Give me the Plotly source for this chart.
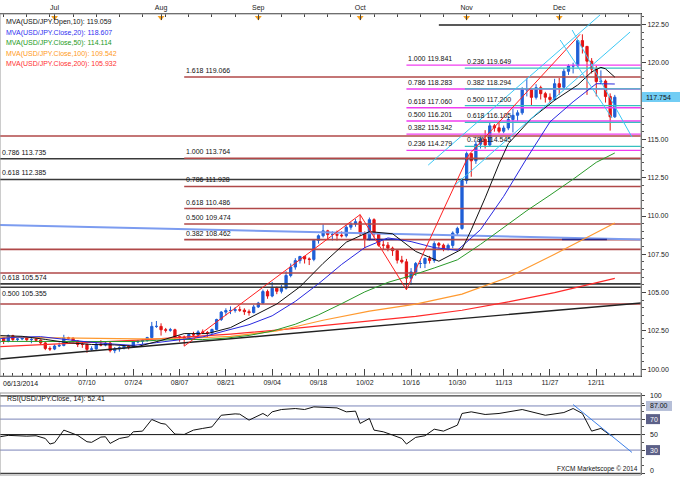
import plotly.graph_objects as go

# ---------------- DATA ----------------
dates = ['06/13','06/16','06/17','06/18','06/19','06/20','06/23','06/24','06/25','06/26','06/27','06/30',
         '07/01','07/02','07/03','07/04','07/07','07/08','07/09','07/10','07/11','07/14','07/15','07/16','07/17','07/18',
         '07/21','07/22','07/23','07/24','07/25','07/28','07/29','07/30','07/31',
         '08/01','08/04','08/05','08/06','08/07','08/08','08/11','08/12','08/13','08/14','08/15','08/18','08/19','08/20',
         '08/21','08/22','08/25','08/26','08/27','08/28','08/29',
         '09/01','09/02','09/03','09/04','09/05','09/08','09/09','09/10','09/11','09/12','09/15','09/16','09/17','09/18',
         '09/19','09/22','09/23','09/24','09/25','09/26','09/29','09/30',
         '10/01','10/02','10/03','10/06','10/07','10/08','10/09','10/10','10/13','10/14','10/15','10/16','10/17','10/20',
         '10/21','10/22','10/23','10/24','10/27','10/28','10/29','10/30','10/31',
         '11/03','11/04','11/05','11/06','11/07','11/10','11/11','11/12','11/13','11/14','11/17','11/18','11/19','11/20',
         '11/21','11/24','11/25','11/26','11/27','11/28',
         '12/01','12/02','12/03','12/04','12/05','12/08','12/09','12/10','12/11','12/12','12/15','12/16','12/17']

opens = [101.72,102.05,101.82,102.19,101.94,101.98,102.04,101.93,101.95,101.90,
         101.72,101.36,101.32,101.52,101.55,102.05,102.03,101.85,101.62,101.62,
         101.30,101.33,101.64,101.58,101.71,101.22,101.33,101.40,101.50,101.45,
         101.78,101.83,101.88,102.07,102.80,102.80,102.58,102.55,102.58,102.12,
         102.10,102.02,102.27,102.24,102.44,102.40,102.38,102.60,103.25,103.73,
         103.83,103.84,103.89,103.86,103.76,103.70,104.07,104.32,105.07,104.78,
         105.29,105.09,105.29,106.12,106.67,107.09,107.36,107.20,107.17,108.41,
         108.71,109.03,108.79,108.80,108.75,108.71,109.27,109.47,109.63,108.85,
         108.48,109.76,108.83,108.10,108.10,107.90,107.74,107.12,107.01,105.94,
         106.35,106.90,106.90,107.23,107.10,108.20,108.10,107.85,108.08,108.89,
         109.19,112.31,114.07,113.60,114.68,115.00,114.63,115.88,115.75,115.53,
         115.74,116.29,116.57,116.73,118.24,118.24,117.74,118.37,117.98,117.75,
         117.60,118.63,118.40,119.44,119.78,119.80,121.44,121.06,120.10,119.58,
         118.77,118.80,117.80,116.47]
highs = [102.15,102.08,102.27,102.25,102.10,102.12,102.15,102.05,102.05,101.95,
         101.80,101.50,101.62,101.75,102.25,102.12,102.08,101.90,101.78,101.68,
         101.50,101.75,101.90,101.82,101.80,101.45,101.50,101.60,101.58,101.85,
         101.92,101.95,102.12,103.09,103.15,103.00,102.70,102.70,102.65,102.20,
         102.20,102.35,102.45,102.55,102.60,102.50,102.65,103.30,103.80,103.98,
         104.10,104.05,104.10,103.98,103.90,104.20,104.40,105.20,105.20,105.70,
         105.40,105.50,106.40,106.90,107.25,107.40,107.40,107.30,108.50,108.80,
         109.45,109.10,109.00,109.05,109.00,109.40,109.60,109.80,110.09,109.00,
         109.90,109.85,108.90,108.40,108.30,108.00,107.80,107.40,107.20,106.60,
         107.00,107.10,107.30,107.40,108.35,108.30,108.20,108.20,109.00,109.30,
         112.45,114.20,114.10,114.90,115.20,115.60,116.10,116.00,116.10,115.90,
         116.50,117.00,116.90,118.40,118.98,118.20,118.60,118.50,118.10,118.00,
         118.95,119.00,119.60,119.90,120.00,121.45,121.85,121.10,120.30,119.80,
         119.50,118.90,118.00,117.90]
lows = [101.62,101.65,101.76,101.80,101.85,101.90,101.82,101.70,101.78,101.60,
        101.25,101.20,101.25,101.45,101.50,101.95,101.75,101.45,101.40,101.08,
        101.20,101.28,101.50,101.50,101.10,101.05,101.15,101.30,101.30,101.40,
        101.70,101.65,101.80,102.00,102.70,102.20,102.40,102.45,101.95,101.80,
        101.51,101.95,102.10,102.15,102.30,102.05,102.30,102.55,103.15,103.50,
        103.60,103.70,103.75,103.55,103.50,103.65,104.00,104.25,104.60,104.70,
        104.90,104.95,105.20,106.00,106.50,106.90,106.90,106.80,107.05,108.20,
        108.60,108.50,108.40,108.40,108.60,108.60,109.10,109.30,108.70,107.90,
        108.40,108.60,108.00,107.80,107.70,107.40,106.90,106.90,105.19,105.50,
        106.10,106.60,106.60,106.90,106.95,107.90,107.70,107.75,107.90,108.70,
        109.10,112.10,112.56,113.40,114.40,114.40,114.50,115.50,115.40,115.40,
        115.60,115.45,116.20,116.60,117.80,117.20,117.60,117.60,117.40,117.40,
        117.50,117.90,118.30,119.20,119.30,119.70,120.60,117.90,119.30,117.80,
        118.60,117.40,115.57,116.40]
closes = [102.05,101.82,102.19,101.94,101.98,102.04,101.93,101.95,101.90,101.72,
          101.36,101.32,101.52,101.55,102.05,102.03,101.85,101.62,101.62,101.30,
          101.33,101.64,101.58,101.71,101.22,101.33,101.40,101.50,101.45,101.78,
          101.83,101.88,102.07,102.80,102.80,102.58,102.55,102.58,102.12,102.10,
          102.02,102.27,102.24,102.44,102.40,102.38,102.60,103.25,103.73,103.83,
          103.84,103.89,103.86,103.76,103.70,104.07,104.32,105.07,104.78,105.29,
          105.09,105.29,106.12,106.67,107.09,107.36,107.20,107.17,108.41,108.71,
          109.03,108.79,108.80,108.75,108.71,109.27,109.47,109.63,108.85,108.48,
          109.76,108.83,108.10,108.10,107.90,107.74,107.12,107.01,105.94,106.35,
          106.90,106.90,107.23,107.10,108.20,108.10,107.85,108.08,108.89,109.19,
          112.31,114.07,113.60,114.68,115.00,114.63,115.88,115.75,115.53,115.74,
          116.29,116.57,116.73,118.24,118.24,117.74,118.37,117.98,117.75,117.60,
          118.63,118.40,119.44,119.78,119.80,121.44,121.06,120.10,119.58,118.77,
          118.80,117.80,116.47,117.75]

# moving averages (bar index, value)
ma10_idx = [0,5,10,15,20,25,30,35,40,45,50,55,60,65,70,75,80,85,90,95,100,102,105,108,110,115,120,125,128,130,131,133]
ma10_val = [102.20,102.15,101.95,101.73,101.62,101.59,101.49,101.88,102.33,102.33,102.72,103.48,104.26,105.38,
            106.91,108.29,108.98,108.84,107.69,107.05,107.84,109.10,111.18,113.40,114.72,116.36,117.55,118.55,
            119.40,119.70,119.60,119.06]
ma20_idx = [0,4,9,14,19,24,29,34,39,44,49,54,59,64,69,74,79,84,89,94,99,104,109,114,119,124,129,133]
ma20_val = [102.00,102.10,102.13,101.94,101.79,101.66,101.56,101.74,101.91,102.11,102.52,102.91,103.49,104.43,
            105.58,106.84,107.94,108.57,108.33,107.94,107.76,109.11,111.28,113.77,116.14,117.45,118.63,118.61]
ma50_idx = [0,4,9,14,19,24,29,34,39,44,49,54,59,64,69,74,79,84,89,94,99,104,109,114,119,124,129,133]
ma50_val = [101.82,101.82,101.84,101.84,101.84,101.82,101.81,101.89,101.95,101.94,102.03,102.21,102.49,102.94,
            103.55,104.28,105.05,105.67,106.11,106.61,107.14,108.15,109.23,110.35,111.36,112.40,113.50,114.11]
ma100_idx = [0,10,20,30,40,50,60,70,80,90,100,110,120,130,133]
ma100_val = [102.10,102.07,102.02,101.99,102.01,102.15,102.50,103.20,103.80,104.25,104.90,106.00,107.50,109.10,109.54]
ma200_idx = [0,10,20,30,40,50,60,70,80,90,100,110,120,130,133]
ma200_val = [101.47,101.60,101.75,101.90,102.10,102.30,102.55,102.85,103.15,103.45,103.85,104.40,105.00,105.70,105.93]

ma_names = ['MVA(USD/JPY.Open,10): 119.059', 'MVA(USD/JPY.Close,20): 118.607', 'MVA(USD/JPY.Close,50): 114.114',
            'MVA(USD/JPY.Close,100): 109.542', 'MVA(USD/JPY.Close,200): 105.932']

# RSI(14)
rsi_idx = [0,2,6,8,10,11,12,14,17,19,20,22,23,24,26,28,29,31,33,35,36,38,40,42,44,46,48,51,52,54,57,58,59,61,64,66,
           68,70,73,75,77,78,80,81,83,85,87,88,90,92,94,96,99,100,102,105,108,113,118,122,124,126,128,130,132,133]
rsi_val = [47,49,48,48.5,45,37.8,39.5,55.8,49,40.8,40,46.8,47.2,38.6,45,47.2,53.6,54.5,69.5,64.4,63.5,50.6,50.2,55.8,
           58,60,75,76.8,76.4,68.7,77.3,73.8,79.4,82.4,83.7,82.4,85.8,85,84.5,79.4,80.3,64.4,70.8,55.8,53.6,49.4,45,
           37.8,46.4,48.5,57,54.5,62.2,77.3,79.4,76,77.3,82.4,75,78.5,83.7,77.3,54.5,58,49.4,50.2]
rsi_levels = [100, 87, 70, 50, 30, 0]
rsi_text = '100 87.00 70 50 30 0'.split()

# Fibonacci groups
red_levels = ['1.618','1.000','0.786','0.618','0.500','0.382']
red_prices = [119.066,113.764,111.928,110.486,109.474,108.462]
red_start = 40
mag_levels = ['1.000','0.786','0.618','0.500','0.382','0.236']
mag_prices = [119.841,118.283,117.060,116.201,115.342,114.279]
mag_start = 88
cyan_levels = ['0.236','0.382','0.500','0.618','0.786']
cyan_prices = [119.649,118.294,117.200,116.105,114.545]
cyan_start = 100.6
blk_levels = ['0.786','0.618','0.618','0.500']
blk_prices = [113.735,112.385,105.574,105.355]
dred_full = [115.22,107.82,106.28,104.26]

# trend lines (bar index, price)
zig1_x = [40, 78, 88]; zig1_y = [101.51, 110.09, 105.19]
zig2_x = [88, 101.5, 125.5]; zig2_y = [105.19, 114.0, 121.85]
cyanA_x = [92.7, 129.8]; cyanA_y = [113.32, 123.11]
cyanB_x = [98.5, 136.3]; cyanB_y = [112.02, 122.0]
cyanC_x = [121.2, 132.4]; cyanC_y = [121.48, 116.39]
cyanD_x = [123.8, 136.7]; cyanD_y = [122.13, 115.15]
lblue_x = [0, 138.7]; lblue_y = [109.41, 108.47]
lblack_x = [0, 138.7]; lblack_y = [100.67, 104.33]
top_x = [95, 138.7]; top_y = [122.46, 122.46]
navy1_x = [79.5, 86.6]; navy2_x = [121.6, 131.3]; navy_y = 108.47
rsi_tl_x = [124, 136.7]; rsi_tl_y = [88.8, 27]

last_price = 117.754
price_ticks = [100.0, 102.5, 105.0, 107.5, 110.0, 112.5, 115.0, 117.5, 120.0, 122.5]
axis_idx = [19,29,39,49,59,69,79,89,99,109,119,129,139]
axis_dates = ['07/10','07/24','08/07','08/21','09/04','09/18','10/02','10/16','10/30','11/13','11/27','12/11','12/23']
month_idx = [12,35,56,78,101,121]
month_lbl = ['Jul','Aug','Sep','Oct','Nov','Dec']

# ---------------- LAYOUT HELPERS ----------------
W, H = 680, 477
XR = 641 / W
XRANGE = [0.216, 138.66]
def p_of_px(y):
    return 120 - (y - 62.7) / 15.33
def r_of_px(y):
    return (473.3 - y) / 0.774
def fy(y):
    return 1 - y / H

FONT = 'Liberation Sans'
UP, DN = '#1f5fd6', '#e31414'
DRED, MAG, TEAL, CY = '#b04848', '#f03cf0', '#36c0c0', '#3cc8f5'

fig = go.Figure()
xi = list(range(len(closes)))

def hline(x0, x1, y, color, w=1.6, xa='x', ya='y'):
    fig.add_trace(go.Scatter(x=[x0, x1], y=[y, y], mode='lines', line=dict(color=color, width=w),
                             hoverinfo='skip', xaxis=xa, yaxis=ya))

def seg(xs, ys, color, w=1.0, xa='x', ya='y'):
    fig.add_trace(go.Scatter(x=xs, y=ys, mode='lines', line=dict(color=color, width=w),
                             hoverinfo='skip', xaxis=xa, yaxis=ya))

END = XRANGE[1] + 1
for p in blk_prices:
    hline(-1, END, p, '#3a3a3a', 1.6)
for p in dred_full:
    hline(-1, END, p, DRED, 1.6)
for p in red_prices:
    hline(red_start, END, p, DRED, 1.6)
for p in mag_prices:
    hline(mag_start, END, p, MAG, 1.4)
for p in cyan_prices:
    hline(cyan_start, END, p, TEAL, 1.4)
hline(top_x[0], END, top_y[0], '#222', 1.4)

seg(lblue_x, lblue_y, '#7c9cf0', 2)
seg(navy1_x, [navy_y, navy_y], '#2a2a8a', 1.6)
seg(navy2_x, [navy_y, navy_y], '#2a2a8a', 1.6)
seg(lblack_x, lblack_y, '#222', 1.4)

seg(ma200_idx, ma200_val, '#ff2a2a', 1.2)
seg(ma100_idx, ma100_val, '#ff9a30', 1.2)
seg(ma50_idx, ma50_val, '#2a9a2a', 1.0)
seg(ma20_idx, ma20_val, '#2828e0', 1.0)
seg(ma10_idx, ma10_val, '#111111', 1.0)

fig.add_trace(go.Candlestick(x=xi, open=opens, high=highs, low=lows, close=closes,
                             increasing=dict(line=dict(color=UP, width=1), fillcolor=UP),
                             decreasing=dict(line=dict(color=DN, width=1), fillcolor=DN),
                             whiskerwidth=0, hoverinfo='skip', xaxis='x', yaxis='y'))

seg(zig1_x, zig1_y, '#ff2020', 1.0)
seg(zig2_x, zig2_y, '#ff2020', 1.0)
for xs, ys in [(cyanA_x, cyanA_y), (cyanB_x, cyanB_y), (cyanC_x, cyanC_y), (cyanD_x, cyanD_y)]:
    seg(xs, ys, CY, 1.0)

fig.add_trace(go.Scatter(x=month_idx, y=[p_of_px(17.5)] * len(month_idx), mode='markers',
                         marker=dict(symbol='triangle-down', size=6, color='#f5a020'),
                         hoverinfo='skip', xaxis='x2', yaxis='y', cliponaxis=False))

for lv in rsi_levels:
    col = '#111' if lv in (100, 50, 0) else '#7a84b8'
    hline(-1, END, lv, col, 1.0, 'x3', 'y3')
seg(rsi_idx, rsi_val, '#111', 1.0, 'x3', 'y3')
seg(rsi_tl_x, rsi_tl_y, '#3a7ee8', 1.0, 'x3', 'y3')

ann = []
def text(x, y, s, color='#111', size=7, xref='paper', yref='paper', xanchor='left', yanchor='middle', **kw):
    ann.append(dict(x=x, y=y, text=s, showarrow=False, xref=xref, yref=yref, xanchor=xanchor,
                    yanchor=yanchor, font=dict(family=FONT, size=size, color=color), **kw))

for lv, p in zip(red_levels, red_prices):
    text(red_start, p, f'{lv} {p:.3f}', xref='x', yref='y', yanchor='bottom', yshift=1)
for lv, p in zip(mag_levels, mag_prices):
    text(mag_start, p, f'{lv} {p:.3f}', xref='x', yref='y', yanchor='bottom', yshift=1)
for lv, p in zip(cyan_levels, cyan_prices):
    text(cyan_start, p, f'{lv} {p:.3f}', xref='x', yref='y', yanchor='bottom', yshift=1)
for i, (lv, p) in enumerate(zip(blk_levels, blk_prices)):
    if i == 3:
        text(XRANGE[0], p, f'{lv} {p:.3f}', xref='x', yref='y', yanchor='top', yshift=-1)
    else:
        text(XRANGE[0], p, f'{lv} {p:.3f}', xref='x', yref='y', yanchor='bottom', yshift=1)

ma_cols = ['#111', '#3030f0', '#1a9a1a', '#ff9a20', '#ff3030']
for i, (nm, c) in enumerate(zip(ma_names, ma_cols)):
    text(4 / W, fy(22 + i * 10.5), nm, color=c, size=7)

text(1 / W, fy(383), '06/13/2014', size=7)
text(5 / W, fy(398.5), 'RSI(USD/JPY.Close, 14): 52.41', size=7)
text(640 / W, fy(469), 'FXCM Marketscope \u00a9 2014', size=6.5, xanchor='right')

shapes = []
yc = fy(97.1)
shapes.append(dict(type='rect', xref='paper', yref='paper', x0=642 / W, x1=1, y0=yc - 5 / H, y1=yc + 5 / H,
                   fillcolor='#72cdf4', line=dict(width=0), layer='above'))
text(644 / W, yc, f'{last_price:.3f}', size=7)

for lv, s in zip(rsi_levels, rsi_text):
    ypx = min(473.3 - 0.774 * lv, 470.5)
    if s == '87.00':
        shapes.append(dict(type='rect', xref='paper', yref='paper', x0=646 / W, x1=672 / W,
                           y0=fy(ypx + 5), y1=fy(ypx - 5), fillcolor='#b6bfd8', line=dict(width=0)))
    if s in ('70', '30'):
        shapes.append(dict(type='rect', xref='paper', yref='paper', x0=646 / W, x1=660 / W,
                           y0=fy(ypx + 5), y1=fy(ypx - 5), fillcolor='#5c6088', line=dict(width=0)))
    text(648 / W, fy(ypx), s, size=7, color='#fff' if s in ('70', '30') else '#111')

for (t, b) in [(14, 376), (393, 475)]:
    shapes.append(dict(type='rect', xref='paper', yref='paper', x0=0, x1=XR, y0=fy(b), y1=fy(t),
                       line=dict(color='#9a9a9a', width=1), fillcolor='rgba(0,0,0,0)', layer='above'))

MAIN_DOM = [fy(376), fy(14)]
RSI_DOM = [fy(475), fy(393)]
fig.update_layout(
    width=W, height=H, margin=dict(l=0, r=0, t=0, b=0),
    paper_bgcolor='white', plot_bgcolor='white', showlegend=False,
    font=dict(family=FONT, size=7, color='#111'),
    annotations=ann, shapes=shapes,
    xaxis=dict(domain=[0, XR], range=XRANGE, anchor='y', showgrid=False, zeroline=False,
               rangeslider=dict(visible=False), tickmode='array', tickvals=axis_idx, ticktext=axis_dates,
               ticks='inside', ticklen=7, tickcolor='#444', tickwidth=1,
               tickfont=dict(family=FONT, size=7, color='#222'),
               showline=True, linecolor='#444',
               minor=dict(tickmode='array', tickvals=list(range(1, 139, 2)), ticks='inside', ticklen=3,
                          tickcolor='#444')),
    xaxis2=dict(domain=[0, XR], range=XRANGE, overlaying='x', side='top', anchor='y', showgrid=False,
                zeroline=False, tickmode='array', tickvals=month_idx, ticktext=month_lbl,
                ticks='inside', ticklen=6, tickcolor='#444', tickfont=dict(family=FONT, size=7, color='#222'),
                showline=True, linecolor='#444',
                minor=dict(tickmode='array', tickvals=list(range(1, 139, 5)), ticks='inside', ticklen=3,
                           tickcolor='#444')),
    yaxis=dict(domain=MAIN_DOM, range=[p_of_px(376), p_of_px(14)], side='right', anchor='x',
               showgrid=False, zeroline=False, tickmode='array', tickvals=price_ticks,
               ticktext=['' if abs(v - 117.5) < 1e-9 else f'{v:.2f}' for v in price_ticks],
               ticks='outside', ticklen=4, tickcolor='#444', showline=True, linecolor='#555',
               tickfont=dict(family=FONT, size=7, color='#222'),
               minor=dict(dtick=0.5, ticks='outside', ticklen=2, tickcolor='#555')),
    xaxis3=dict(domain=[0, XR], range=XRANGE, anchor='y3', showgrid=False, zeroline=False,
                showticklabels=False, ticks=''),
    yaxis3=dict(domain=RSI_DOM, range=[r_of_px(475), r_of_px(393)], side='right', anchor='x3',
                showgrid=False, zeroline=False, showticklabels=False, tickmode='array',
                tickvals=rsi_levels, ticks='outside', ticklen=3, tickcolor='#444',
                showline=True, linecolor='#555',
                minor=dict(dtick=10, ticks='outside', ticklen=2, tickcolor='#555')),
)

fig.write_html('out.html', config={'displayModeBar': False},
               post_script="document.body.style.margin='0px';document.body.style.padding='0px';")
